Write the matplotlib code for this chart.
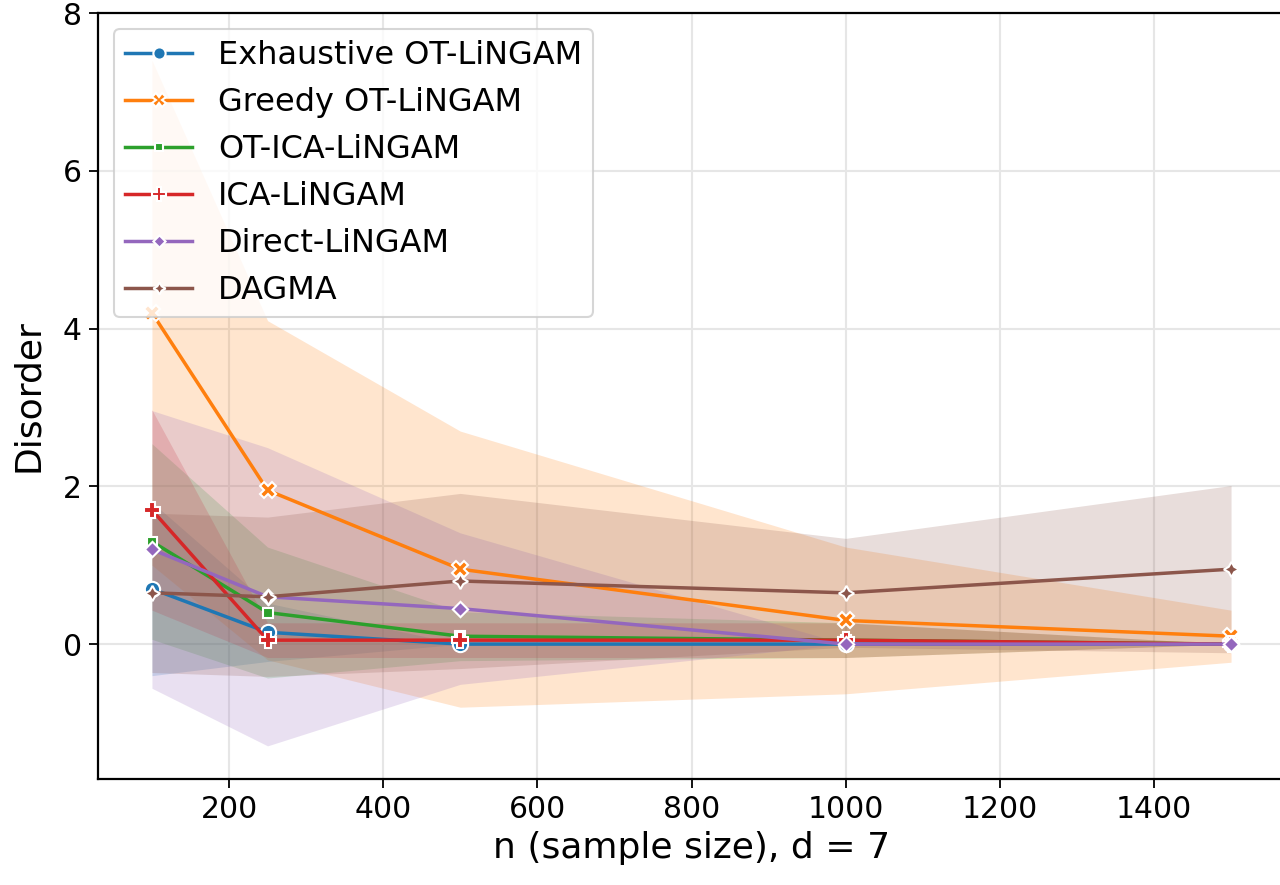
import matplotlib
matplotlib.use("Agg")
import matplotlib.pyplot as plt
import numpy as np

n_values = [100, 250, 500, 1000, 1500]

methods = ["Exhaustive OT-LiNGAM", "Greedy OT-LiNGAM", "OT-ICA-LiNGAM",
           "ICA-LiNGAM", "Direct-LiNGAM", "DAGMA"]

exhaustive_mean = [0.70, 0.15, 0.00, 0.00, 0.00]
exhaustive_sd = [1.10, 0.37, 0.00, 0.00, 0.00]
greedy_mean = [4.20, 1.95, 0.95, 0.30, 0.10]
greedy_sd = [3.20, 2.15, 1.75, 0.93, 0.33]
otica_mean = [1.30, 0.40, 0.10, 0.05, 0.00]
otica_sd = [1.24, 0.83, 0.31, 0.22, 0.00]
ica_mean = [1.70, 0.05, 0.05, 0.05, 0.00]
ica_sd = [1.27, 0.22, 0.22, 0.22, 0.00]
direct_mean = [1.20, 0.60, 0.45, 0.00, 0.00]
direct_sd = [1.76, 1.89, 0.96, 0.00, 0.00]
dagma_mean = [0.65, 0.60, 0.80, 0.65, 0.95]
dagma_sd = [1.01, 1.01, 1.11, 0.69, 1.06]

means = [exhaustive_mean, greedy_mean, otica_mean, ica_mean, direct_mean, dagma_mean]
sds = [exhaustive_sd, greedy_sd, otica_sd, ica_sd, direct_sd, dagma_sd]

colors = ["#1f77b4", "#ff7f0e", "#2ca02c", "#d62728", "#9467bd", "#8c564b"]
markers = ["o", "X", (4, 0, 45), "P", (4, 0, 0), (4, 1, 0)]
msizes = [11, 12, 11, 12, 11, 11]

fig = plt.figure(figsize=(12.8, 8.85), dpi=100)
ax = fig.add_axes([98 / 1280, 106 / 885, (1285 - 98) / 1280, (779 - 13) / 885])

x = np.array(n_values, dtype=float)
for name, m, s, c, mk, ms in zip(methods, means, sds, colors, markers, msizes):
    m = np.array(m)
    s = np.array(s)
    ax.plot(x, m, color=c, lw=2.5, marker=mk, markersize=ms,
            markeredgecolor="white", markeredgewidth=1.5, label=name, zorder=3)
    ax.fill_between(x, m - s, m + s, color=c, alpha=0.2, lw=0, zorder=1)

ax.set_xlim(30, 1570)
ax.set_ylim(-1.71, 8)
ax.set_xticks([200, 400, 600, 800, 1000, 1200, 1400])
ax.set_yticks([0, 2, 4, 6, 8])
ax.tick_params(labelsize=21.5, width=1.3, length=6.5, pad=5)
ax.grid(True, color="#e6e6e6", lw=1.5)
ax.set_axisbelow(True)
for sp in ax.spines.values():
    sp.set_linewidth(1.6)
ax.spines["right"].set_visible(False)

ax.set_xlabel("n (sample size), d = 7", fontsize=26, labelpad=5)
ax.set_ylabel("Disorder", fontsize=26, labelpad=13)

leg = ax.legend(loc="upper left", fontsize=23, frameon=True,
                borderaxespad=0.5, handlelength=2.1, markerscale=0.8,
                labelspacing=0.5, borderpad=0.35)
leg.get_frame().set_linewidth(1.5)
leg.get_frame().set_edgecolor("#cccccc")

fig.savefig("out.png", dpi=100)
